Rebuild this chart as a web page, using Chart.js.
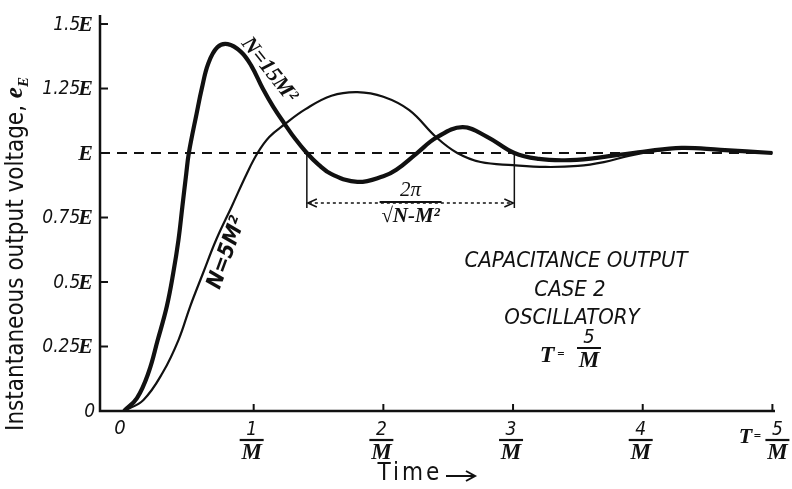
<!DOCTYPE html>
<html>
<head>
<meta charset="utf-8">
<script src="https://cdn.jsdelivr.net/npm/chart.js@4"></script>
<style>
  html, body { margin: 0; background: #fff; }
  canvas { display: block; }
</style>
</head>
<body>
<canvas id="chart" width="792" height="489"></canvas>
<script>
// time in units of 1/M, voltage in units of E
const tN15 = [0, 0.1, 0.19, 0.26, 0.33, 0.38, 0.42, 0.45, 0.48, 0.5, 0.56, 0.6, 0.65, 0.72, 0.8, 0.9, 0.98, 1.07, 1.15, 1.24, 1.32, 1.41, 1.5, 1.6, 1.8, 2.0, 2.1, 2.26, 2.41, 2.61, 2.8, 3.01, 3.2, 3.4, 3.6, 3.77, 4.0, 4.3, 4.6, 5.0];
const vN15 = [0, 0.05, 0.15, 0.275, 0.405, 0.535, 0.663, 0.792, 0.92, 1.0, 1.153, 1.25, 1.347, 1.41, 1.422, 1.393, 1.34, 1.25, 1.18, 1.112, 1.055, 1.0, 0.955, 0.918, 0.888, 0.91, 0.935, 1.0, 1.06, 1.1, 1.063, 1.0, 0.977, 0.972, 0.978, 0.99, 1.005, 1.02, 1.012, 1.0];
const tN5 = [0, 0.15, 0.3, 0.42, 0.51, 0.61, 0.71, 0.83, 0.945, 1.03, 1.12, 1.24, 1.4, 1.6, 1.8, 2.0, 2.2, 2.41, 2.57, 2.75, 3.0, 3.25, 3.5, 3.7, 3.9, 4.1, 4.3, 4.6, 5.0];
const vN5 = [0, 0.043, 0.15, 0.275, 0.405, 0.535, 0.663, 0.792, 0.918, 1.0, 1.062, 1.112, 1.17, 1.222, 1.236, 1.218, 1.166, 1.06, 1.0, 0.965, 0.953, 0.946, 0.95, 0.965, 0.99, 1.008, 1.018, 1.012, 1.0];
const tSteady = [-0.185, 5.0];
const vSteady = [1, 1];

const yTickValues = [0, 0.25, 0.5, 0.75, 1, 1.25, 1.5];
const yTickNumbers = ["0", "0.25", "0.5", "0.75", "", "1.25", "1.5"];
const xTickValues = [1, 2, 3, 4, 5];
const xTickNumerators = ["1", "2", "3", "4", "5"];
const periodStart = 1.41;
const periodEnd = 3.01;

const INK = "#111";
const SANS = '"DejaVu Sans Condensed", "DejaVu Sans", sans-serif';
const NARROW = '"Liberation Sans Narrow", "DejaVu Sans Condensed", sans-serif';
const SERIF = '"Liberation Serif", serif';

function pts(ts, vs) {
  return ts.map((t, i) => ({ x: t, y: vs[i] }));
}

function text(ctx, s, x, y, font, align, base) {
  ctx.font = font;
  ctx.textAlign = align || "center";
  ctx.textBaseline = base || "middle";
  ctx.fillText(s, x, y);
}

function bar(ctx, x1, x2, y, w) {
  ctx.lineWidth = w || 2;
  ctx.beginPath();
  ctx.moveTo(x1, y);
  ctx.lineTo(x2, y);
  ctx.stroke();
}

function arrowHead(ctx, x, y, dir) {
  ctx.beginPath();
  ctx.moveTo(x + dir * 9, y - 4);
  ctx.lineTo(x, y);
  ctx.lineTo(x + dir * 9, y + 4);
  ctx.stroke();
}

const decor = {
  id: "decor",
  afterDraw(chart) {
    const { ctx, chartArea: a, scales: { x, y } } = chart;
    ctx.save();
    ctx.strokeStyle = INK;
    ctx.fillStyle = INK;
    ctx.lineCap = "butt";

    // axes
    ctx.lineWidth = 2.5;
    ctx.beginPath();
    ctx.moveTo(a.left, a.top);
    ctx.lineTo(a.left, a.bottom);
    ctx.lineTo(a.right, a.bottom);
    ctx.stroke();

    // y ticks and labels
    yTickValues.forEach((v, i) => {
      const py = y.getPixelForValue(v);
      if (v > 0 && v !== 1) bar(ctx, a.left, a.left + 8, py, 2);
      const num = yTickNumbers[i];
      const showE = v > 0;
      ctx.font = `bold italic 22px ${SERIF}`;
      const eW = showE ? ctx.measureText("E").width : 0;
      const right = 93;
      if (showE) text(ctx, "E", right, py + 1, `bold italic 22px ${SERIF}`, "right");
      if (num) text(ctx, num, right - eW + 2, py + 1, `italic 19px ${NARROW}`, "right");
    });

    // x ticks and labels
    text(ctx, "0", x.getPixelForValue(0) - 4, 429, `italic 20px ${NARROW}`);
    xTickValues.forEach((v, i) => {
      const px = x.getPixelForValue(v);
      ctx.lineWidth = 2;
      ctx.beginPath();
      ctx.moveTo(px, a.bottom);
      ctx.lineTo(px, a.bottom - 7);
      ctx.stroke();
      const cx = v === 5 ? px + 5 : px - 2;
      text(ctx, xTickNumerators[i], cx, 430, `italic 19px ${NARROW}`);
      bar(ctx, cx - 12, cx + 12, 440, 2.2);
      text(ctx, "M", cx, 453, `bold italic 23px ${SERIF}`);
    });
    const p5 = x.getPixelForValue(5);
    text(ctx, "T", p5 - 27, 437, `bold italic 22px ${SERIF}`);
    text(ctx, "=", p5 - 15, 437, `bold 13px ${SERIF}`);

    // axis titles
    ctx.letterSpacing = "3px";
    text(ctx, "Time", 410, 474, `24px ${SANS}`);
    ctx.letterSpacing = "0px";
    bar(ctx, 446, 474, 476, 2);
    ctx.lineWidth = 2;
    ctx.beginPath();
    ctx.moveTo(466, 471);
    ctx.lineTo(475, 476);
    ctx.lineTo(466, 481);
    ctx.stroke();

    ctx.save();
    ctx.translate(17, 253);
    ctx.rotate(-Math.PI / 2);
    const main = "Instantaneous output voltage, ";
    ctx.font = `24px ${SANS}`;
    const mW = ctx.measureText(main).width;
    ctx.font = `bold italic 25px ${SERIF}`;
    const eW = ctx.measureText("e").width;
    const total = mW + eW + 12;
    let sx = -total / 2;
    text(ctx, main, sx, 0, `24px ${SANS}`, "left", "middle");
    sx += mW;
    text(ctx, "e", sx, -1, `bold italic 25px ${SERIF}`, "left", "middle");
    text(ctx, "E", sx + eW, 7, `bold italic 15px ${SERIF}`, "left", "middle");
    ctx.restore();

    // period dimension
    const xa = x.getPixelForValue(periodStart);
    const xb = x.getPixelForValue(periodEnd);
    const yE = y.getPixelForValue(1);
    const yd = 203;
    ctx.lineWidth = 1.5;
    ctx.beginPath();
    ctx.moveTo(xa, yE);
    ctx.lineTo(xa, yd + 5);
    ctx.moveTo(xb, yE);
    ctx.lineTo(xb, yd + 5);
    ctx.stroke();
    ctx.setLineDash([3, 3]);
    bar(ctx, xa + 2, xb - 2, yd, 1.5);
    ctx.setLineDash([]);
    ctx.lineWidth = 1.5;
    arrowHead(ctx, xa + 1, yd, 1);
    arrowHead(ctx, xb - 1, yd, -1);
    const mid = (xa + xb) / 2;
    bar(ctx, mid - 31, mid + 31, yd - 1, 2.2);
    text(ctx, "2π", mid, 190, `italic 21px ${SERIF}`);
    text(ctx, "√N-M²", mid, 217, `bold italic 21px ${SERIF}`);

    // curve labels
    ctx.save();
    ctx.translate(269, 70);
    ctx.rotate(0.9);
    text(ctx, "N=15M²", 0, 0, `bold italic 22px ${SERIF}`);
    ctx.restore();
    ctx.save();
    ctx.translate(227, 253);
    ctx.rotate(-1.22);
    text(ctx, "N=5M²", 0, 0, `bold italic 22px ${NARROW}`);
    ctx.restore();

    // case note
    text(ctx, "CAPACITANCE OUTPUT", 576, 261, `italic 22px ${NARROW}`);
    text(ctx, "CASE 2", 570, 290, `italic 22px ${NARROW}`);
    text(ctx, "OSCILLATORY", 572, 318, `italic 22px ${NARROW}`);
    text(ctx, "T", 547, 356, `bold italic 24px ${SERIF}`);
    text(ctx, "=", 561, 355, `bold 13px ${SERIF}`);
    text(ctx, "5", 589, 338, `italic 20px ${NARROW}`);
    bar(ctx, 577, 601, 348, 2);
    text(ctx, "M", 589, 361, `bold italic 23px ${SERIF}`);

    ctx.restore();
  },
};

new Chart(document.getElementById("chart"), {
  type: "line",
  data: {
    datasets: [
      { label: "E", data: pts(tSteady, vSteady), borderColor: INK, borderWidth: 2, borderDash: [10, 7], tension: 0 },
      { label: "N=5M²", data: pts(tN5, vN5), borderColor: INK, borderWidth: 2.2, tension: 0.4 },
      { label: "N=15M²", data: pts(tN15, vN15), borderColor: INK, borderWidth: 4.2, tension: 0.4 },
    ],
  },
  options: {
    responsive: false,
    animation: false,
    devicePixelRatio: 1,
    layout: { padding: { left: 100, right: 17, top: 15, bottom: 78 } },
    elements: { point: { radius: 0 } },
    plugins: { legend: { display: false }, tooltip: { enabled: false } },
    scales: {
      x: { type: "linear", min: -0.185, max: 5.02, display: false },
      y: { min: 0, max: 1.535, display: false },
    },
  },
  plugins: [decor],
});
</script>
</body>
</html>
